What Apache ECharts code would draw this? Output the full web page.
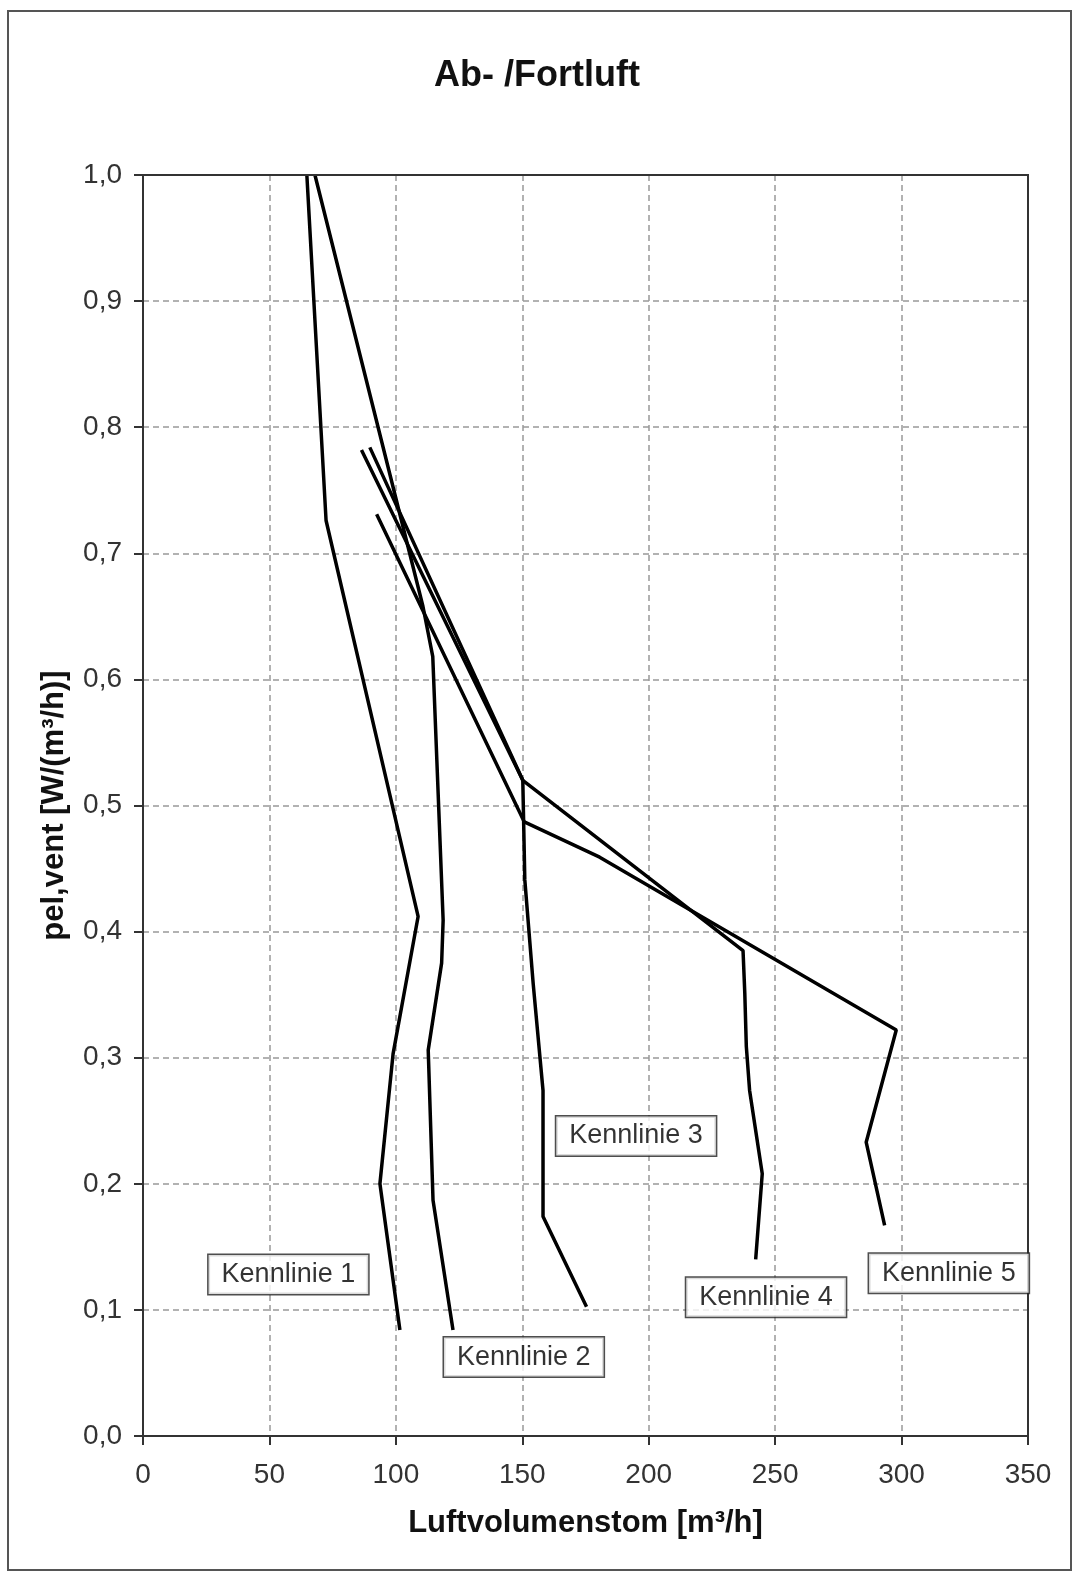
<!DOCTYPE html>
<html>
<head>
<meta charset="utf-8">
<script src="https://cdn.jsdelivr.net/npm/echarts@6/dist/echarts.min.js"></script>
<style>
html,body{margin:0;padding:0;background:#fff;}
#chart{width:1073px;height:1579px;}
</style>
</head>
<body>
<div id="chart"></div>
<script>
// ---- data ----
const xTicks = [0, 50, 100, 150, 200, 250, 300, 350];
const yTicks = [0, 0.1, 0.2, 0.3, 0.4, 0.5, 0.6, 0.7, 0.8, 0.9, 1.0];

const k1X = [64.8, 72.4, 108.8, 98.9, 93.7, 101.6];
const k1Y = [1.0, 0.726, 0.412, 0.303, 0.200, 0.084];

const k2X = [68.0, 110.7, 114.6, 118.7, 118.1, 112.8, 114.7, 122.6];
const k2Y = [1.0, 0.658, 0.618, 0.409, 0.375, 0.306, 0.187, 0.084];

const k3X = [89.7, 150.2, 151.0, 154.3, 158.2, 158.2, 175.4];
const k3Y = [0.784, 0.520, 0.441, 0.359, 0.274, 0.174, 0.1025];

const k4X = [86.4, 150.2, 237.3, 238.0, 238.6, 239.9, 244.9, 242.3];
const k4Y = [0.782, 0.520, 0.385, 0.351, 0.309, 0.274, 0.208, 0.140];

const k5X = [92.4, 150.8, 180.6, 297.9, 286.0, 293.3];
const k5Y = [0.731, 0.487, 0.459, 0.322, 0.233, 0.167];

const labelNames = ['Kennlinie 1', 'Kennlinie 2', 'Kennlinie 3', 'Kennlinie 4', 'Kennlinie 5'];
const labelX = [57.5, 150.6, 195.0, 246.4, 318.7];
const labelY = [0.128, 0.0626, 0.238, 0.110, 0.129];

const titleText = 'Ab- /Fortluft';
const xName = 'Luftvolumenstom [m³/h]';
const yName = 'pel,vent [W/(m³/h)]';

// ---- build ----
const zip = (xs, ys) => xs.map((x, i) => [x, ys[i]]);
const FONT = '"Liberation Sans", Arial, sans-serif';

const lineSeries = [[k1X, k1Y], [k2X, k2Y], [k3X, k3Y], [k4X, k4Y], [k5X, k5Y]].map((d, i) => ({
  type: 'line',
  name: labelNames[i],
  data: zip(d[0], d[1]),
  showSymbol: false,
  symbol: 'none',
  lineStyle: { color: '#000', width: 3.5 },
  z: 3,
  silent: true
}));

const chart = echarts.init(document.getElementById('chart'), null, { renderer: 'canvas' });
chart.setOption({
  animation: false,
  backgroundColor: '#fff',
  title: {
    text: titleText,
    left: 537,
    top: 58,
    padding: 0,
    textAlign: 'center',
    textStyle: { fontFamily: FONT, fontWeight: 'bold', fontSize: 36, color: '#111' }
  },
  graphic: [{
    type: 'rect',
    shape: { x: 8, y: 11, width: 1063, height: 1559 },
    style: { fill: 'none', stroke: '#555', lineWidth: 2 },
    silent: true,
    z: -1
  }],
  grid: {
    left: 143, right: 45, top: 175, bottom: 143,
    show: true,
    borderColor: '#333',
    borderWidth: 2,
    backgroundColor: 'transparent',
    z: 4
  },
  xAxis: {
    type: 'value',
    min: 0, max: 350, interval: 50,
    name: xName,
    nameLocation: 'middle',
    nameGap: 72,
    nameTextStyle: { fontFamily: FONT, fontWeight: 'bold', fontSize: 31, color: '#111' },
    axisLine: { show: true, lineStyle: { color: '#333', width: 2 } },
    axisTick: { show: true, length: 9, lineStyle: { color: '#333', width: 2 } },
    axisLabel: {
      margin: 25, fontFamily: FONT, fontSize: 28, color: '#333',
      customValues: xTicks
    },
    splitLine: {
      show: true, showMinLine: false, showMaxLine: false,
      lineStyle: { color: '#999', width: 1.5, type: [6, 4] }
    }
  },
  yAxis: {
    type: 'value',
    min: 0, max: 1, interval: 0.1,
    name: yName,
    nameLocation: 'middle',
    nameGap: 73,
    nameTextStyle: { fontFamily: FONT, fontWeight: 'bold', fontSize: 31, color: '#111' },
    axisLine: { show: true, lineStyle: { color: '#333', width: 2 } },
    axisTick: { show: true, length: 9, lineStyle: { color: '#333', width: 2 } },
    axisLabel: {
      margin: 21, fontFamily: FONT, fontSize: 28, color: '#333',
      formatter: v => v.toFixed(1).replace('.', ',')
    },
    splitLine: {
      show: true, showMinLine: false, showMaxLine: false,
      lineStyle: { color: '#999', width: 1.5, type: [6, 4] }
    }
  },
  series: lineSeries.concat([{
    type: 'scatter',
    name: 'labels',
    data: zip(labelX, labelY),
    symbolSize: 1,
    itemStyle: { color: 'rgba(0,0,0,0)' },
    silent: true,
    z: 10,
    label: {
      show: true,
      position: 'inside',
      formatter: p => labelNames[p.dataIndex],
      fontFamily: FONT,
      fontSize: 27,
      lineHeight: 27,
      color: '#000',
      backgroundColor: '#fff',
      borderColor: '#222',
      borderWidth: 1.5,
      padding: [6, 13]
    }
  }])
});
</script>
</body>
</html>
